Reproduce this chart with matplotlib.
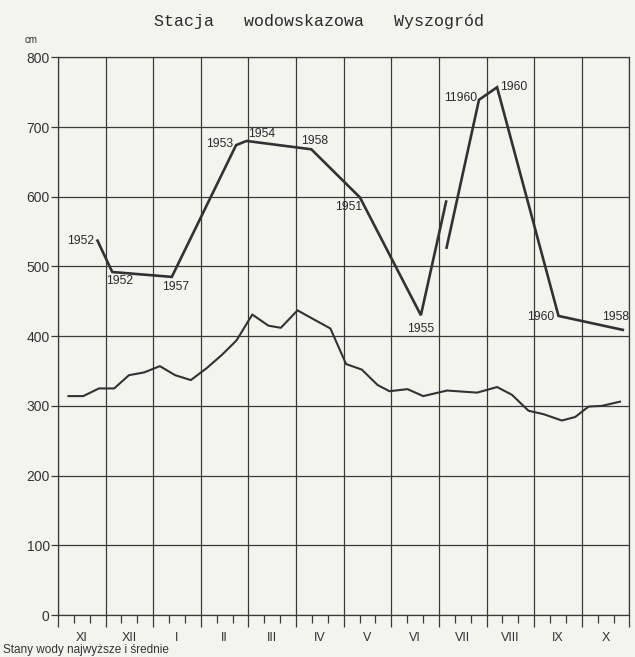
import matplotlib.pyplot as plt
import matplotlib.transforms as mtransforms
import numpy as np

# stany maksymalne (z rokiem wystapienia) - linia gorna, przerwa na sklejeniu arkusza
max_x = [0.83, 1.14, 2.39, 3.74, 3.96, 5.32, 6.34, 7.62, 8.15, np.nan, 8.16, 8.84, 9.22, 10.51, 11.86]
max_y = [537, 492, 485, 674, 680, 668, 599, 430, 593, np.nan, 527, 739, 757, 429, 409]
max_lata = ["1952", "1952", "1957", "1953", "1954", "1958", "1951", "1955", "", "", "", "11960", "1960", "1960", "1958"]

# stany srednie - linia dolna
sr_x = [0.22, 0.53, 0.86, 1.18, 1.49, 1.81, 2.14, 2.46, 2.79, 3.12, 3.44, 3.75, 4.08, 4.42,
        4.68, 5.03, 5.40, 5.72, 6.05, 6.38, 6.71, 6.96, 7.34, 7.67, 8.17, 8.80, 9.22, 9.53,
        9.88, 10.20, 10.58, 10.86, 11.14, 11.42, 11.80]
sr_y = [314, 314, 325, 325, 344, 348, 357, 344, 337, 354, 373, 394, 431, 415,
        412, 437, 423, 411, 360, 352, 330, 321, 324, 314, 322, 319, 327, 316,
        293, 288, 279, 284, 299, 300, 306]

miesiace = ["XI", "XII", "I", "II", "III", "IV", "V", "VI", "VII", "VIII", "IX", "X"]

# polozenie podpisow lat wzgledem punktu (dx w px, dy w px, wyrownanie)
opis = [(-3, 0, "right", "center"), (-6, -9, "left", "center"), (-10, -10, "left", "center"),
        (-3, 1, "right", "center"), (2, 7, "left", "center"), (-10, 8, "left", "center"),
        (-25, -10, "left", "center"), (-14, -14, "left", "center"), None, None, None,
        (-2, 2, "right", "center"), (3, 0, "left", "center"), (-31, -1, "left", "center"),
        (-21, 13, "left", "center")]

papier = "#f4f4ef"
kolor = "#323232"

fig = plt.figure(figsize=(6.35, 6.57), dpi=100, facecolor=papier)
ax = fig.add_axes([0.0913, 0.0639, 0.9, 0.8489])
ax.set_facecolor(papier)

ax.plot(max_x, max_y, color=kolor, lw=1.9, solid_joinstyle="miter", zorder=3)
ax.plot(sr_x, sr_y, color=kolor, lw=1.5, zorder=3)

for x, y, t, o in zip(max_x, max_y, max_lata, opis):
    if o is None or t == "":
        continue
    dx, dy, ha, va = o
    ax.annotate(t, (x, y), xytext=(dx * 0.72, dy * 0.72), textcoords="offset points",
                ha=ha, va=va, fontsize=8.7, family="Liberation Sans", color="#2a2a2a")

ax.set_xlim(0, 12)
ax.set_ylim(0, 800)
ax.set_xticks(np.arange(0, 13))
ax.set_xticklabels([])
ax.set_xticks([m + k / 3 for m in range(12) for k in (1, 2)], minor=True)
ax.set_yticks(np.arange(0, 801, 100))
ax.set_yticklabels([str(v) for v in range(0, 801, 100)], family="Liberation Sans",
                   fontsize=10, color="#333333")

ax.tick_params(axis="x", which="major", direction="out", length=8.5, width=0.9, color="#3a3a3a")
ax.tick_params(axis="x", which="minor", direction="out", length=5.5, width=0.9, color="#3a3a3a")
ax.tick_params(axis="y", direction="out", length=5, width=0.9, color="#3a3a3a", pad=1)

ax.grid(True, which="major", color="#3a3a3a", lw=0.9)
for s in ax.spines.values():
    s.set_color("#3a3a3a")
    s.set_linewidth(0.9)

trans = mtransforms.blended_transform_factory(ax.transData, ax.transAxes)
for i, m in enumerate(miesiace):
    ax.text(i + 0.5, -0.041, m, transform=trans, ha="center", va="center",
            fontsize=9, family="Liberation Sans", color="#333333")

ax.text(-0.047, 1.022, "cm", transform=ax.transAxes, ha="center", va="bottom",
        fontsize=7, family="Liberation Sans", color="#333333")

fig.text(0.502, 0.967, "Stacja   wodowskazowa   Wyszogród", ha="center", va="center",
         fontsize=12, family="Liberation Mono", color="#2a2a2a")

# podpis pod wykresem (w oryginale przyciety krawedzia)
fig.text(0.005, 0.001, "Stany wody najwyższe i średnie", ha="left", va="bottom",
         fontsize=8.5, family="Liberation Sans", color="#333333")

fig.savefig("out.png", dpi=100, facecolor=papier)
